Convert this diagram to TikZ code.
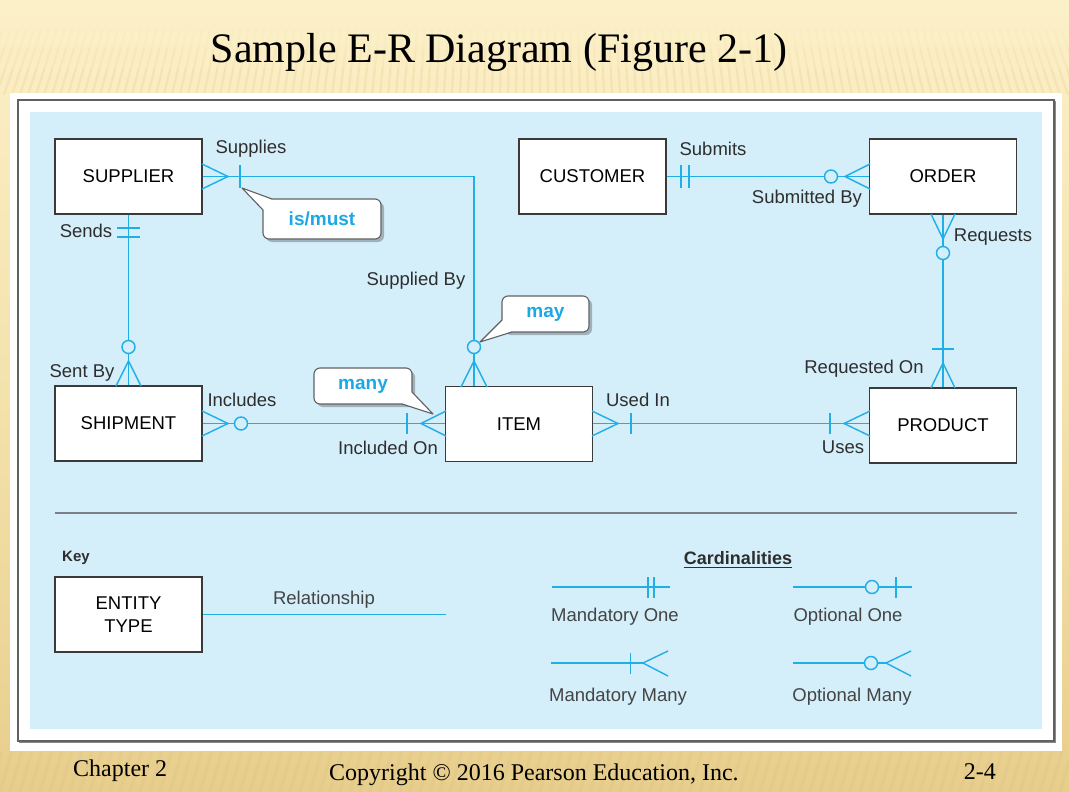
\documentclass[tikz,border=0pt]{standalone}
\usepackage{fontspec}
\setmainfont{Liberation Sans}
\newfontfamily\seriffam{Liberation Serif}
\usetikzlibrary{shadows}
\definecolor{bgtop}{HTML}{FCF0C9}
\definecolor{bgmid}{HTML}{F4E2AC}
\definecolor{bgbot}{HTML}{E8CE8C}
\definecolor{stripe}{HTML}{E9D08E}
\definecolor{bluebg}{HTML}{D4EEFA}
\definecolor{cyanl}{HTML}{1FAEE6}
\definecolor{calltxt}{HTML}{1BA8E4}
\definecolor{boxgray}{HTML}{3A3A3A}
\definecolor{labc}{HTML}{2E2E2E}
\definecolor{keyc}{HTML}{444444}
\definecolor{sepgray}{HTML}{7A8088}
\newcommand{\entfont}{\fontsize{18.5}{22}\selectfont}
\newcommand{\labfont}{\fontsize{18.5}{22}\selectfont}
\newcommand{\callfont}{\fontsize{19}{22}\selectfont\bfseries}
\begin{document}
\begin{tikzpicture}[x=1pt,y=-1pt,
  entity/.style={draw=boxgray, line width=1.2pt, fill=white, minimum width=147pt,
    minimum height=75pt, inner sep=0pt, font=\entfont, text=black, align=center},
  rel/.style={draw=cyanl, line width=1.4pt},
  ring/.style={draw=cyanl, line width=1.4pt, fill=bluebg},
  lbl/.style={font=\labfont, text=labc, inner sep=0pt},
  keylbl/.style={font=\labfont, text=keyc, inner sep=0pt},
  callout/.style={draw=boxgray!80, line width=1.1pt, fill=white, rounded corners=6pt,
    inner sep=0pt, font=\callfont, text=calltxt,
    drop shadow={shadow xshift=3pt, shadow yshift=-3pt, opacity=0.25, fill=black}},
  pointer/.style={fill=white, draw=none},
  pedge/.style={draw=boxgray!80, line width=1.1pt, line join=round},
  stripeline/.style={draw=stripe, line width=2.2pt}
]
% ---------- background ----------
\useasboundingbox (0,0) rectangle (1069,792);
\shade[top color=bgtop, bottom color=bgbot, middle color=bgmid] (0,0) rectangle (1069,792);
\foreach \ya/\yb/\op in {30/50/0.08, 50/70/0.18, 70/95/0.3} {
  \begin{scope}
    \clip (0,\ya) rectangle (1069,\yb);
    \foreach \i in {-60,-52,...,1120} {
      \draw[stripeline, opacity=\op] (\i,95) -- ({\i+22*(1-\i/534)},30);
    }
  \end{scope}
}
\begin{scope}
  \clip (0,751) rectangle (1069,792);
  \foreach \i in {-60,-50,...,1100} {
    \draw[bgbot!85!black, opacity=0.1, line width=3pt] (\i,792) -- (\i+12,751);
  }
\end{scope}
% ---------- frame ----------
\fill[white] (10,93) rectangle (1062,751);
\draw[boxgray!80, line width=1.3pt] (18,100) rectangle (1054,741);
\draw[boxgray!60, line width=1pt] (1055.5,101) -- (1055.5,742) -- (19,742);
\fill[bluebg] (30,112) rectangle (1042,729);
% ---------- title & footer ----------
\node[font=\seriffam\fontsize{42}{48}\selectfont, anchor=base, inner sep=0pt] (title) at (499,63) {Sample E-R Diagram (Figure 2-1)};
\node[font=\seriffam\fontsize{24}{28}\selectfont, anchor=base west, inner sep=0pt] (chap) at (73,776) {Chapter 2};
\node[font=\seriffam\fontsize{24}{28}\selectfont, anchor=base west, inner sep=0pt] (copy) at (329,780) {Copyright \textcopyright{} 2016 Pearson Education, Inc.};
\node[font=\seriffam\fontsize{24}{28}\selectfont, anchor=base east, inner sep=0pt] (pg) at (996,779) {2-4};
% ---------- entities ----------
\node[entity] (sup)  at (128.5,176.5) {SUPPLIER};
\node[entity] (ship) at (128.5,423.5) {SHIPMENT};
\node[entity] (item) at (519,424) {ITEM};
\node[entity] (cust) at (592.5,176.5) {CUSTOMER};
\node[entity] (ord)  at (943,176.5) {ORDER};
\node[entity] (prod) at (943,425.5) {PRODUCT};
% ---------- connectors ----------
\coordinate (c1) at (474,176.5);
\draw[rel] (sup.east) -- (c1) -- (c1 |- item.north);
\draw[rel] (sup.south) -- (ship.north);
\draw[rel] (ship.east) -- (ship.east -| item.west);
\draw[rel] (cust.east) -- (ord.west);
\draw[rel] (ord.south) -- (prod.north);
\draw[rel] (item.east |- ship.east) -- (ship.east -| prod.west);
% ---------- markers ----------
% Supplier end (Supplies)
\draw[rel] (202,164) -- (228,176.5) -- (202,189);
\draw[rel] (240,165) -- (240,188);
% Item end (Supplied By)
\draw[rel] (461,387) -- (474,361) -- (487,387);
\draw[ring] (474,347) circle[radius=6.5pt];
% Sends
\draw[rel] (117,228) -- (140,228);
\draw[rel] (117,237) -- (140,237);
% Sent By
\draw[rel] (116,386) -- (128.5,361) -- (141,386);
\draw[ring] (128.5,347) circle[radius=6.5pt];
% Includes
\draw[rel] (202,411) -- (228,423.5) -- (202,436);
\draw[ring] (241,423.5) circle[radius=6.5pt];
% Included On
\draw[rel] (446,411) -- (421,423.5) -- (446,436);
\draw[rel] (407,413) -- (407,434);
% Submits
\draw[rel] (681,165) -- (681,188);
\draw[rel] (689,165) -- (689,188);
% Submitted By
\draw[ring] (831,176.5) circle[radius=6.5pt];
\draw[rel] (870,164) -- (845,176.5) -- (870,189);
% Requests
\draw[rel] (931,214) -- (943,239) -- (955,214);
\draw[ring] (943,253) circle[radius=6.5pt];
% Requested On
\draw[rel] (932,349) -- (954,349);
\draw[rel] (931,388) -- (943,363) -- (955,388);
% Used In
\draw[rel] (592,411) -- (618,423.5) -- (592,436);
\draw[rel] (631,413) -- (631,434);
% Uses
\draw[rel] (830,413) -- (830,434);
\draw[rel] (870,411) -- (844,423.5) -- (870,436);
% ---------- labels ----------
\node[lbl] (lsupplies) at (251,149) {Supplies};
\node[lbl] (lsends) at (86,231) {Sends};
\node[lbl] (lsuppby) at (416,281) {Supplied By};
\node[lbl] (lsentby) at (82,373) {Sent By};
\node[lbl] (lincl) at (242,400) {Includes};
\node[lbl] (linclon) at (388,448) {Included On};
\node[lbl] (lsubmits) at (713,149) {Submits};
\node[lbl] (lsubby) at (807,199) {Submitted By};
\node[lbl] (lreq) at (993,237) {Requests};
\node[lbl] (lreqon) at (864,369) {Requested On};
\node[lbl] (lused) at (638,400) {Used In};
\node[lbl] (luses) at (843,447) {Uses};
% ---------- callouts ----------
\node[callout, minimum width=118pt, minimum height=40pt] (cmust) at (322,219) {is/must};
\fill[pointer] (242,188) -- (272,199.6) -- (270,206) -- (263.6,210) -- cycle;
\draw[pedge] (272,199) -- (242,188) -- (263,210);
\node[callout, minimum width=87pt, minimum height=36pt] (cmay) at (545.5,314) {may};
\fill[pointer] (480,342) -- (502.6,320) -- (506,328) -- (512,331.4) -- cycle;
\draw[pedge] (502,320) -- (480,342) -- (512,332);
\node[callout, minimum width=98pt, minimum height=36pt] (cmany) at (363,386) {many};
\fill[pointer] (433,414) -- (411.4,392) -- (408,400) -- (402,403.4) -- cycle;
\draw[pedge] (412,392) -- (433,414) -- (402,404);
% ---------- key ----------
\draw[sepgray, line width=2pt] (55,513) -- (1017,513);
\node[font=\fontsize{15}{18}\selectfont\bfseries, text=labc, inner sep=0pt] (key) at (76,558) {Key};
\node[entity, font=\fontsize{18.5}{23}\selectfont] (et) at (128.5,614.5) {ENTITY\\TYPE};
\coordinate (relend) at (446,614.5);
\draw[rel] (et.east) -- (relend);
\node[keylbl] (lrel) at (324,600) {Relationship};
\node[font=\fontsize{18}{22}\selectfont\bfseries, text=labc, inner sep=0pt] (card) at (738,558) {Cardinalities};
\draw[labc, line width=1.3pt] ([yshift=-3pt]card.south west) -- ([yshift=-3pt]card.south east);
% Mandatory One
\coordinate (m1a) at (552,587); \coordinate (m1b) at (670,587);
\draw[rel] (m1a) -- (m1b);
\draw[rel] (648,577) -- (648,598);
\draw[rel] (654,577) -- (654,598);
\node[keylbl] (lm1) at (615,617) {Mandatory One};
% Optional One
\coordinate (o1a) at (793,587); \coordinate (o1b) at (912,587);
\draw[rel] (o1a) -- (o1b);
\draw[ring] (872,587) circle[radius=6.5pt];
\draw[rel] (896,577) -- (896,598);
\node[keylbl] (lo1) at (848,617) {Optional One};
% Mandatory Many
\coordinate (mma) at (551,663); \coordinate (mmb) at (668,663);
\draw[rel] (mma) -- (643,663);
\draw[rel] (630.5,653) -- (630.5,674);
\draw[rel] (668,651) -- (643,663) -- (668,676);
\node[keylbl] (lmm) at (618,697) {Mandatory Many};
% Optional Many
\coordinate (oma) at (793,663); \coordinate (omb) at (911,663);
\draw[rel] (oma) -- (886,663);
\draw[ring] (871,663) circle[radius=6.5pt];
\draw[rel] (911,651) -- (886,663) -- (911,676);
\node[keylbl] (lom) at (852,697) {Optional Many};
\end{tikzpicture}
\end{document}
